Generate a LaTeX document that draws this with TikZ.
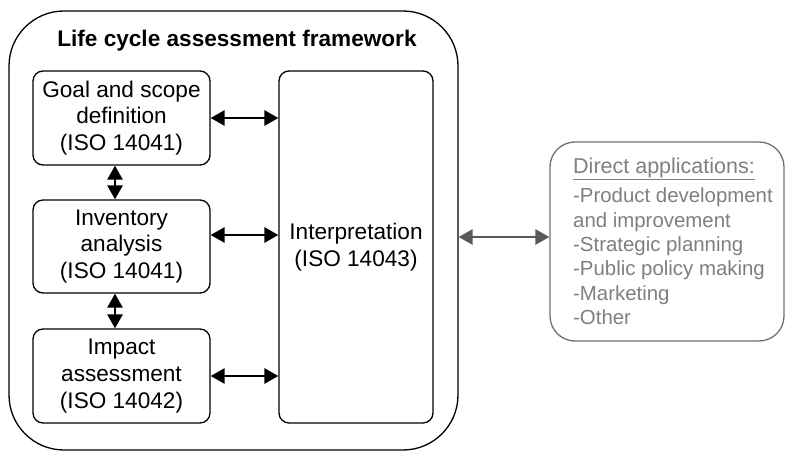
\documentclass[tikz,border=0pt]{standalone}
\usepackage{fontspec}
\setmainfont{Liberation Sans}
\usetikzlibrary{arrows.meta}
\definecolor{appgray}{HTML}{7F7F7F}
\definecolor{appedge}{HTML}{707070}
\definecolor{linkgray}{HTML}{595959}
\begin{document}
\begin{tikzpicture}[x=1pt,y=-1pt,
  boxfont/.style={font=\fontsize{22.6}{26.7}\selectfont},
  stage/.style={draw, line width=1.3pt, rounded corners=10pt, align=center,
    inner sep=0pt, boxfont},
  link/.style={line width=2.8pt,
    {Triangle[length=14pt,width=15pt]}-{Triangle[length=14pt,width=15pt]}},
]
\useasboundingbox (0,0) rectangle (785,452);

% framework enclosure and its title
\node[draw, line width=1.3pt, rounded corners=55pt, minimum width=449pt,
  minimum height=439pt, inner sep=0pt] (frame) at (233.5,230.5) {};
\node[font=\bfseries\fontsize{22.6}{26.7}\selectfont] (title) at (237,41)
  {Life cycle assessment framework};

% the three phases on the left
\node[stage, minimum width=177pt, minimum height=94pt] (goal) at (121.5,118)
  {Goal and scope\\definition\\(ISO 14041)};
\node[stage, minimum width=177pt, minimum height=93pt] (inv) at (121.5,246.5)
  {Inventory\\analysis\\(ISO 14041)};
\node[stage, minimum width=177pt, minimum height=94pt] (imp) at (121.5,376)
  {Impact\\assessment\\(ISO 14042)};

% interpretation column
\node[stage, minimum width=154pt, minimum height=352pt] (interp) at (356,247)
  {Interpretation\\(ISO 14043)};

% links between phases
\draw[link] (goal.east) -- (goal.east -| interp.west);
\draw[link] ([yshift=11.5pt]inv.east) -- ([yshift=11.5pt]inv.east -| interp.west);
\draw[link] (imp.east) -- (imp.east -| interp.west);
\draw[link] ([xshift=-6.5pt]goal.south) -- ([xshift=-6.5pt]goal.south |- inv.north);
\draw[link] ([xshift=-6.5pt]inv.south) -- ([xshift=-6.5pt]inv.south |- imp.north);

% direct applications
\node[draw=appedge, line width=1.3pt, rounded corners=25pt, minimum width=234pt,
  minimum height=199pt, inner sep=0pt] (apps) at (667,241.5) {};
\node[anchor=north west, align=left, inner sep=0pt, text=appgray,
  font=\fontsize{20.4}{24.4}\selectfont] (applist) at (573,157.5)
  {{\fontsize{21.5}{24.4}\selectfont\underline{Direct applications:}}\\[5pt]
   -Product development\\and improvement\\
   -Strategic planning\\-Public policy making\\-Marketing\\-Other};

\draw[link, linkgray] ([yshift=-6.5pt]frame.east) -- ([yshift=-6.5pt]frame.east -| apps.west);
\end{tikzpicture}
\end{document}
